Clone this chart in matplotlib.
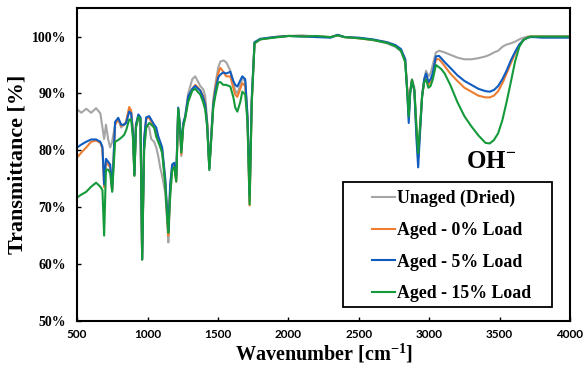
import numpy as np
import matplotlib
matplotlib.use("Agg")
import matplotlib.pyplot as plt
from matplotlib.patches import Rectangle

# --- FTIR spectra ---
wavenumber = [500, 530, 565, 600, 635, 665, 680, 692, 705, 720, 735, 749, 770, 792, 813, 834, 848, 870, 884, 897,
              907, 918, 935, 950, 962, 976, 991, 1012, 1026, 1047, 1062, 1076, 1090, 1104, 1126, 1140, 1148, 1161,
              1175, 1190, 1204, 1218, 1232, 1240, 1254, 1268, 1289, 1318, 1339, 1360, 1375, 1396, 1410, 1424, 1439,
              1453, 1467, 1481, 1502, 1517, 1538, 1559, 1588, 1609, 1623, 1638, 1659, 1673, 1694, 1710, 1725, 1740,
              1760, 1800, 1900, 2000, 2100, 2200, 2300, 2350, 2400, 2500, 2600, 2700, 2760, 2800, 2830, 2845, 2855,
              2865, 2878, 2895, 2910, 2922, 2935, 2950, 2965, 2978, 2995, 3010, 3025, 3048, 3070, 3085, 3110, 3150,
              3200, 3250, 3300, 3350, 3400, 3430, 3460, 3490, 3520, 3550, 3580, 3610, 3640, 3670, 3700, 3720, 3750,
              3800, 3900, 4000]

unaged = [87.2, 86.6, 87.3, 86.6, 87.4, 86.5, 84.0, 82.0, 84.5, 82.0, 80.5, 81.5, 84.5, 85.5, 84.0, 84.5, 85.0, 87.0, 86.5, 83.0,
          75.6, 84.0, 85.5, 85.0, 60.8, 80.0, 84.5, 84.0, 82.0, 81.5, 80.5, 79.0, 77.0, 75.5, 72.5, 67.5, 63.8, 72.0,
          76.5, 77.5, 75.0, 87.0, 83.0, 79.0, 84.5, 86.0, 90.0, 92.5, 93.0, 92.0, 91.3, 90.7, 89.5, 85.0, 77.0,
          83.0, 88.9, 91.5, 94.5, 95.6, 95.8, 95.5, 94.0, 92.0, 90.5, 90.0, 91.5, 92.8, 92.0, 86.0, 71.0, 88.5,
          98.8, 99.5, 99.9, 100.1, 100.2, 100.0, 99.9, 100.3, 99.9, 99.7, 99.4, 98.8, 98.2, 97.4, 95.5, 90.5, 86.0,
          90.5, 92.5, 91.0, 84.0, 79.0, 84.0, 89.8, 92.5, 94.0, 93.0, 93.5, 95.0, 97.2, 97.5, 97.4, 97.2, 96.8,
          96.3, 96.0, 96.0, 96.2, 96.5, 96.8, 97.2, 97.5, 98.2, 98.6, 98.8, 99.1, 99.5, 99.8, 100.0, 100.0, 100.0,
          100.0, 100.0, 100.0]

load_0 = [78.7, 79.6, 80.5, 81.5, 81.7, 81.3, 80.3, 73.5, 78.0, 77.5, 77.0, 72.8, 84.5, 85.5, 84.3, 84.5, 85.0, 87.6, 87.0, 83.0,
          75.6, 84.5, 86.0, 85.5, 60.8, 82.0, 85.5, 85.8, 85.0, 84.0, 83.5, 82.0, 81.0, 80.0, 74.5, 68.0, 65.0, 73.5,
          77.0, 77.5, 74.5, 87.3, 83.5, 79.3, 84.5, 85.8, 89.3, 90.8, 91.5, 91.0, 90.5, 89.5, 88.3, 84.5, 76.8,
          82.5, 88.2, 90.8, 93.5, 94.5, 93.8, 93.0, 93.0, 91.0, 89.8, 89.4, 90.8, 91.8, 91.3, 85.5, 70.3, 88.5,
          98.9, 99.5, 99.9, 100.1, 100.1, 100.0, 99.9, 100.2, 99.9, 99.7, 99.4, 99.0, 98.4, 97.6, 96.0, 90.5, 86.0,
          90.3, 92.3, 90.5, 83.0, 78.5, 83.5, 89.5, 92.2, 93.0, 91.5, 92.0, 93.0, 96.0, 96.0, 95.6, 94.8, 93.5,
          92.2, 91.0, 90.3, 89.6, 89.3, 89.3, 89.6, 90.4, 91.8, 93.5, 95.3, 97.0, 98.5, 99.4, 99.9, 100.0, 100.0,
          100.0, 100.0, 100.0]

load_5 = [80.5, 81.0, 81.5, 81.9, 81.9, 81.5, 80.6, 74.0, 78.5, 78.0, 77.5, 73.0, 85.0, 85.7, 84.5, 84.5, 84.8, 86.8, 86.5, 83.0,
          75.7, 84.5, 86.3, 85.8, 60.8, 82.0, 85.8, 86.0, 85.4, 84.5, 84.0, 82.5, 81.5, 80.5, 75.0, 69.0, 66.0, 74.0,
          77.5, 77.8, 75.5, 87.5, 84.0, 80.0, 84.8, 86.0, 89.5, 90.8, 91.3, 90.8, 90.5, 89.2, 88.0, 84.5, 76.8,
          82.5, 88.0, 90.3, 92.8, 93.3, 93.7, 93.5, 93.8, 92.2, 91.5, 91.2, 92.3, 93.0, 92.5, 86.0, 72.0, 89.0,
          99.0, 99.6, 99.9, 100.1, 100.0, 99.9, 99.8, 100.3, 99.9, 99.8, 99.5, 99.0, 98.5, 97.8, 96.0, 90.0, 84.8,
          90.0, 92.2, 90.5, 82.0, 77.0, 83.0, 89.5, 92.5, 93.5, 92.0, 92.5, 93.5, 96.5, 96.6, 96.2, 95.5, 94.5,
          93.2, 92.2, 91.5, 90.8, 90.4, 90.3, 90.6, 91.3, 92.5, 94.0, 95.8, 97.3, 98.6, 99.4, 99.8, 99.9, 99.9,
          99.8, 99.8, 99.8]

load_15 = [71.7, 72.2, 72.7, 73.6, 74.3, 73.6, 73.0, 65.0, 76.6, 76.6, 76.0, 72.7, 81.5, 81.8, 82.2, 82.7, 83.5, 85.4, 85.4, 82.0,
           75.5, 84.0, 85.9, 85.5, 60.8, 80.0, 84.0, 84.8, 84.5, 84.0, 82.4, 81.5, 80.6, 79.5, 74.0, 68.0, 65.5, 72.0,
           76.5, 77.0, 74.5, 87.3, 83.6, 79.6, 84.2, 85.7, 88.5, 90.5, 90.8, 90.2, 89.8, 88.4, 87.1, 84.0, 76.5,
           82.0, 87.5, 89.5, 91.9, 92.0, 91.5, 91.5, 91.2, 89.4, 87.5, 86.8, 88.5, 90.3, 89.8, 85.0, 70.5, 88.0,
           98.8, 99.5, 99.8, 100.1, 100.0, 100.1, 99.9, 100.2, 99.9, 99.7, 99.4, 98.9, 98.3, 97.5, 95.5, 90.0, 86.0,
           90.0, 92.4, 90.5, 84.0, 79.5, 84.0, 89.5, 92.0, 92.4, 91.0, 91.3, 92.4, 95.0, 94.6, 94.3, 93.5, 91.5,
           88.5, 86.0, 84.2, 82.6, 81.3, 81.2, 81.8, 83.0, 85.3, 88.5, 92.0, 95.6, 98.2, 99.4, 99.8, 100.0, 100.0,
           100.0, 100.0, 100.0]

series_labels = ['Unaged (Dried)', 'Aged - 0% Load', 'Aged - 5% Load', 'Aged - 15% Load']
series_colors = ['#A5A5A5', '#ED7D31', '#0F5CC0', '#149A3A']

y_ticks = [50, 60, 70, 80, 90, 100]
x_ticks = [500, 1000, 1500, 2000, 2500, 3000, 3500, 4000]

SERIF = ['Liberation Serif', 'DejaVu Serif']
plt.rcParams['mathtext.fontset'] = 'custom'
plt.rcParams['mathtext.rm'] = 'Liberation Serif:bold'
plt.rcParams['mathtext.bf'] = 'Liberation Serif:bold'


def main():
    fig = plt.figure(figsize=(5.84, 3.68), dpi=100)
    ax = fig.add_axes([0.132, 0.128, 0.844, 0.850])

    for vals, lab, col in zip([unaged, load_0, load_5, load_15], series_labels, series_colors):
        ax.plot(wavenumber, vals, color=col, linewidth=1.5, label=lab)

    ax.set_xlim(500, 4000)
    ax.set_ylim(50, 105)
    ax.set_xticks(x_ticks)
    ax.set_yticks(y_ticks)
    ax.set_yticklabels([f'{v}%' for v in y_ticks], family=SERIF, fontweight='bold', fontsize=10)
    ax.set_xticklabels([str(v) for v in x_ticks], family='Lato', fontweight='bold', fontsize=8.5)
    ax.tick_params(direction='in', length=3, width=1)
    ax.tick_params(axis='y', pad=8)
    ax.tick_params(axis='x', pad=6)

    for sp in ax.spines.values():
        sp.set_linewidth(1.5)
        sp.set_color('black')

    ax.set_xlabel(r'Wavenumber [cm$^{-1}$]', family=SERIF, fontweight='bold', fontsize=14.5, labelpad=1)
    ax.set_ylabel('Transmittance [%]', family=SERIF, fontweight='bold', fontsize=15.8, labelpad=3)

    ax.text(3440, 78.0, r'OH$^{-}$', family=SERIF, fontweight='bold', fontsize=18,
            ha='center', va='center')

    # legend box is drawn separately: it is wider than its entries
    ax.add_patch(Rectangle((0.540, 0.045), 0.423, 0.399, transform=ax.transAxes,
                           facecolor='white', edgecolor='black', linewidth=1.3, zorder=4))
    leg = ax.legend(loc='upper left', bbox_to_anchor=(0.598, 0.418), frameon=False,
                    borderaxespad=0, borderpad=0, handlelength=1.3, handletextpad=0.1,
                    labelspacing=0.82, prop={'family': SERIF, 'weight': 'bold', 'size': 12.8})
    leg.set_zorder(5)
    for ln in leg.get_lines():
        ln.set_linewidth(1.5)

    fig.savefig('out.png', dpi=100)


if __name__ == "__main__":
    main()
